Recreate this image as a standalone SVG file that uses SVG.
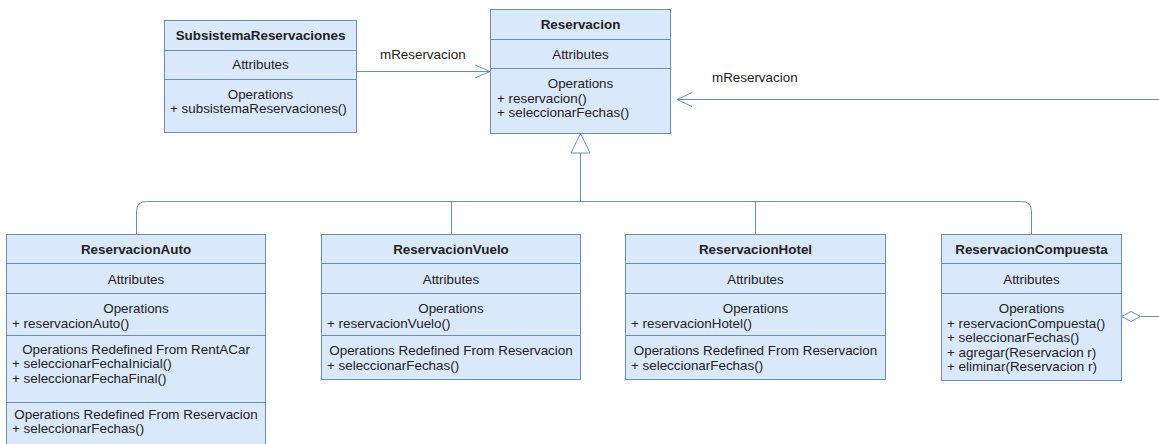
<svg xmlns="http://www.w3.org/2000/svg" width="1159" height="444" viewBox="0 0 1159 444">
  <style>
    .box { fill: #dae8fc; stroke: #6c8ebf; stroke-width: 1; }
    .div { stroke: #6c8ebf; stroke-width: 1; fill: none; }
    .edge { stroke: #6c8ebf; stroke-width: 1; fill: none; }
    .head { fill: #ffffff; stroke: #6c8ebf; stroke-width: 1; }
    text { font-family: "Liberation Sans", Arial, sans-serif; font-size: 13.4px; fill: #222222; }
    .t { font-weight: bold; text-anchor: middle; }
    .c { text-anchor: middle; }
    .l { text-anchor: start; }
  </style>
  <rect width="1159" height="444" fill="#ffffff"/>

  <!-- connectors -->
  <g id="connectors">
    <!-- association SubsistemaReservaciones -> Reservacion -->
    <path class="edge" d="M356 71.5 H490"/>
    <polyline class="edge" points="475,65 490,71.5 475,78"/>
    <text class="l" x="380" y="58.5">mReservacion</text>
    <!-- association from the right -> Reservacion -->
    <path class="edge" d="M1159 99.5 H677"/>
    <polyline class="edge" points="692,92.5 677,99.5 692,106.5"/>
    <text class="l" x="712" y="82">mReservacion</text>
    <!-- generalization tree -->
    <path class="edge" d="M580.5 153 V201.5"/>
    <path class="edge" d="M136.5 234 V211.5 Q136.5 201.5 146.5 201.5 H1021.5 Q1031.5 201.5 1031.5 211.5 V234"/>
    <path class="edge" d="M451.5 201.5 V234"/>
    <path class="edge" d="M755.5 201.5 V234"/>
    <polygon class="head" points="580.5,133.5 571,153 590,153"/>
    <!-- aggregation from ReservacionCompuesta -->
    <path class="edge" d="M1140.5 316.5 H1159"/>
    <polygon class="head" points="1121.5,316.5 1131,311.5 1140.5,316.5 1131,321.5"/>
  </g>

  <g id="SubsistemaReservaciones">
    <rect class="box" x="164.5" y="20.5" width="192" height="112"/>
    <path class="div" d="M164.5 50.5 H356.5 M164.5 79.5 H356.5"/>
    <text class="t" x="260.5" y="39.5">SubsistemaReservaciones</text>
    <text class="c" x="260.5" y="69.3">Attributes</text>
    <text class="c" x="260.5" y="98.5">Operations</text>
    <text class="l" x="170" y="113.3">+ subsistemaReservaciones()</text>
  </g>

  <g id="Reservacion">
    <rect class="box" x="490.5" y="9.5" width="180" height="124"/>
    <path class="div" d="M490.5 39.5 H670.5 M490.5 68.5 H670.5"/>
    <text class="t" x="580.5" y="29.3">Reservacion</text>
    <text class="c" x="580.5" y="58.5">Attributes</text>
    <text class="c" x="580.5" y="87.5">Operations</text>
    <text class="l" x="497" y="102.5">+ reservacion()</text>
    <text class="l" x="497" y="117.3">+ seleccionarFechas()</text>
  </g>

  <g id="ReservacionAuto">
    <rect class="box" x="6.5" y="234.5" width="259" height="216"/>
    <path class="div" d="M6.5 263.5 H265.5 M6.5 293.5 H265.5 M6.5 335.5 H265.5 M6.5 402.5 H265.5"/>
    <text class="t" x="136" y="254">ReservacionAuto</text>
    <text class="c" x="136" y="283.5">Attributes</text>
    <text class="c" x="136" y="313">Operations</text>
    <text class="l" x="12" y="327.5">+ reservacionAuto()</text>
    <text class="c" x="136" y="353.7">Operations Redefined From RentACar</text>
    <text class="l" x="12" y="368.2">+ seleccionarFechaInicial()</text>
    <text class="l" x="12" y="382.7">+ seleccionarFechaFinal()</text>
    <text class="c" x="136" y="418.5">Operations Redefined From Reservacion</text>
    <text class="l" x="12" y="433">+ seleccionarFechas()</text>
  </g>

  <g id="ReservacionVuelo">
    <rect class="box" x="321.5" y="234.5" width="259" height="145"/>
    <path class="div" d="M321.5 263.5 H580.5 M321.5 293.5 H580.5 M321.5 335.5 H580.5"/>
    <text class="t" x="451" y="254">ReservacionVuelo</text>
    <text class="c" x="451" y="283.5">Attributes</text>
    <text class="c" x="451" y="313">Operations</text>
    <text class="l" x="327" y="327.5">+ reservacionVuelo()</text>
    <text class="c" x="451" y="355">Operations Redefined From Reservacion</text>
    <text class="l" x="327" y="369.5">+ seleccionarFechas()</text>
  </g>

  <g id="ReservacionHotel">
    <rect class="box" x="625.5" y="234.5" width="260" height="145"/>
    <path class="div" d="M625.5 263.5 H885.5 M625.5 293.5 H885.5 M625.5 335.5 H885.5"/>
    <text class="t" x="755.5" y="254">ReservacionHotel</text>
    <text class="c" x="755.5" y="283.5">Attributes</text>
    <text class="c" x="755.5" y="313">Operations</text>
    <text class="l" x="631" y="327.5">+ reservacionHotel()</text>
    <text class="c" x="755.5" y="355">Operations Redefined From Reservacion</text>
    <text class="l" x="631" y="369.5">+ seleccionarFechas()</text>
  </g>

  <g id="ReservacionCompuesta">
    <rect class="box" x="941.5" y="234.5" width="180" height="146"/>
    <path class="div" d="M941.5 263.5 H1121.5 M941.5 293.5 H1121.5"/>
    <text class="t" x="1031.5" y="254">ReservacionCompuesta</text>
    <text class="c" x="1031.5" y="283.5">Attributes</text>
    <text class="c" x="1031.5" y="313">Operations</text>
    <text class="l" x="947" y="327.5">+ reservacionCompuesta()</text>
    <text class="l" x="947" y="342">+ seleccionarFechas()</text>
    <text class="l" x="947" y="356.5">+ agregar(Reservacion r)</text>
    <text class="l" x="947" y="371">+ eliminar(Reservacion r)</text>
  </g>
</svg>
